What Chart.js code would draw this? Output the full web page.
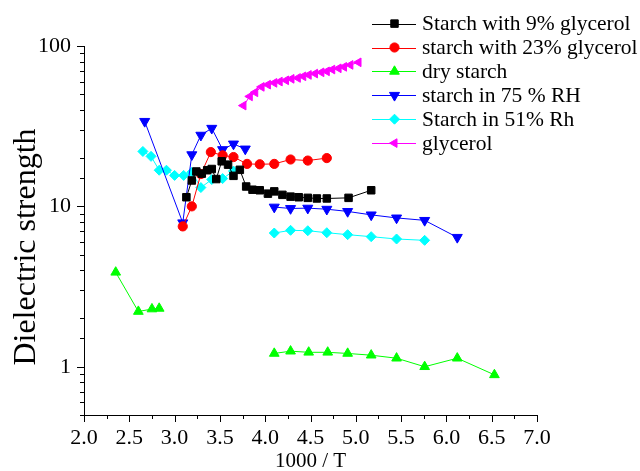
<!DOCTYPE html>
<html>
<head>
<meta charset="utf-8">
<script src="https://cdn.jsdelivr.net/npm/chart.js@4/dist/chart.umd.min.js"></script>
<style>
html,body{margin:0;padding:0;background:#fff;}
#wrap{width:640px;height:471px;position:relative;}
</style>
</head>
<body>
<div id="wrap"><canvas id="c" width="640" height="471"></canvas></div>
<script>
// ---- data ----
const seriesNames = ["Starch with 9% glycerol","starch with 23% glycerol","dry starch","starch in 75 % RH","Starch in 51% Rh","glycerol"];

const blackX = [3.13,3.19,3.24,3.30,3.36,3.41,3.46,3.52,3.59,3.65,3.72,3.79,3.86,3.94,4.03,4.10,4.19,4.28,4.37,4.47,4.57,4.68,4.92,5.17];
const blackY = [11.4,14.5,16.5,16.0,16.8,17.1,14.8,19.1,18.2,15.5,16.9,13.3,12.7,12.6,12.0,12.4,11.8,11.5,11.4,11.3,11.2,11.2,11.3,12.6];

const redX = [3.09,3.19,3.29,3.40,3.53,3.65,3.80,3.94,4.10,4.28,4.47,4.68];
const redY = [7.5,10.0,15.9,21.8,20.8,20.3,18.4,18.3,18.4,19.6,19.3,20.0];

const greenX = [2.35,2.60,2.75,2.83,null,4.10,4.28,4.48,4.69,4.91,5.17,5.45,5.76,6.12,6.53];
const greenY = [3.88,2.21,2.29,2.31,null,1.21,1.25,1.23,1.23,1.21,1.18,1.13,1.0,1.13,0.89];

const blueX = [2.67,3.09,3.19,3.29,3.41,3.53,3.65,3.78,null,4.10,4.28,4.47,4.68,4.91,5.17,5.45,5.76,6.12];
const blueY = [33.9,7.9,21.0,27.8,30.7,22.6,24.5,22.8,null,9.9,9.7,9.75,9.6,9.3,8.85,8.47,8.18,6.41];

const cyanX = [2.65,2.74,2.83,2.91,3.00,3.10,3.19,3.29,3.41,3.53,3.65,null,4.10,4.28,4.47,4.68,4.91,5.17,5.45,5.76];
const cyanY = [22.0,20.5,16.8,16.8,15.6,15.6,16.3,13.1,14.7,14.9,16.6,null,6.82,7.09,7.05,6.85,6.66,6.47,6.26,6.14];

const magentaX = [3.76,3.83,3.89,3.96,4.03,4.10,4.16,4.23,4.29,4.36,4.42,4.48,4.55,4.62,4.68,4.74,4.81,4.87,4.94,5.03];
const magentaY = [42.5,48.5,51.4,55.6,57.4,58.9,60.0,61.1,62.4,63.2,64.7,66.0,67.3,68.5,69.5,71.3,72.6,74.1,76.2,79.1];

const xMin = 2, xMax = 7, xStep = 0.25;
const yMin = 0.5, yMax = 100;
const yLabelValues = [1, 10, 100];
const xTitle = "1000 / T";
const yTitle = "Dielectric strength";

// ---- build ----
function pts(xs, ys){ return xs.map((x,i)=>({x:x, y:ys[i]})); }
const FONT = "'Liberation Serif','Times New Roman',serif";

const styles = [
  {color:'#000000', pointStyle:'rect', rotation:0, radius:5.3},
  {color:'#ff0000', pointStyle:'circle', rotation:0, radius:4.6},
  {color:'#00ff00', pointStyle:'triangle', rotation:0, radius:5.6},
  {color:'#0000ff', pointStyle:'triangle', rotation:180, radius:5.8},
  {color:'#00ffff', pointStyle:'rectRot', rotation:0, radius:5.0},
  {color:'#ff00ff', pointStyle:'triangle', rotation:270, radius:5.0}
];
const dataPairs = [[blackX,blackY],[redX,redY],[greenX,greenY],[blueX,blueY],[cyanX,cyanY],[magentaX,magentaY]];

const datasets = dataPairs.map((p,i)=>({
  label: seriesNames[i],
  data: pts(p[0],p[1]),
  showLine: true,
  spanGaps: false,
  borderColor: styles[i].color,
  backgroundColor: styles[i].color,
  borderWidth: 1,
  pointStyle: styles[i].pointStyle,
  rotation: styles[i].rotation,
  pointRotation: styles[i].rotation,
  pointRadius: styles[i].radius,
  pointBorderWidth: 1,
  pointBorderColor: styles[i].color,
  pointBackgroundColor: styles[i].color,
  tension: 0
}));

const decor = {
  id:'decor',
  afterDraw(chart){
    const ctx = chart.ctx;
    const xs = chart.scales.x, ys = chart.scales.y;
    ctx.save();
    ctx.strokeStyle = '#000';
    ctx.lineWidth = 1;
    // x ticks (outward)
    xs.ticks.forEach(t=>{
      const px = Math.round(xs.getPixelForValue(t.value)) + 0.5;
      const major = Math.abs(t.value*2 - Math.round(t.value*2)) < 1e-6;
      const len = major ? 7 : 4;
      ctx.beginPath(); ctx.moveTo(px, xs.top); ctx.lineTo(px, xs.top + len); ctx.stroke();
    });
    // y ticks (outward)
    ys.ticks.forEach(t=>{
      const py = Math.round(ys.getPixelForValue(t.value)) + 0.5;
      const lg = Math.log10(t.value);
      const major = Math.abs(lg - Math.round(lg)) < 1e-6;
      const len = major ? 7 : 4;
      ctx.beginPath(); ctx.moveTo(ys.right, py); ctx.lineTo(ys.right - len, py); ctx.stroke();
    });
    // axis titles
    ctx.fillStyle = '#000';
    ctx.font = "21px " + FONT;
    ctx.textAlign = 'center'; ctx.textBaseline = 'middle';
    ctx.fillText(xTitle, (xs.left + xs.right)/2, 461);
    ctx.save();
    ctx.translate(27, 247);
    ctx.rotate(-Math.PI/2);
    ctx.font = "32px " + FONT;
    ctx.fillText(yTitle, 0, 0);
    ctx.restore();
    // legend
    const rowY0 = 23.6, rowDy = 23.9;
    chart.data.datasets.forEach((ds,i)=>{
      const y = rowY0 + i*rowDy;
      ctx.strokeStyle = ds.borderColor; ctx.fillStyle = ds.backgroundColor;
      ctx.lineWidth = 1;
      ctx.beginPath(); ctx.moveTo(372, Math.round(y)+0.5); ctx.lineTo(416, Math.round(y)+0.5); ctx.stroke();
      Chart.helpers.drawPoint(ctx, {pointStyle: ds.pointStyle, rotation: ds.pointRotation, radius: ds.pointRadius, borderWidth: 1}, 394.5, y);
      ctx.fillStyle = '#000';
      ctx.font = "21.5px " + FONT;
      ctx.textAlign = 'left'; ctx.textBaseline = 'middle';
      ctx.fillText(ds.label, 422, y + 1);
    });
    ctx.restore();
  }
};

new Chart(document.getElementById('c'), {
  type: 'scatter',
  data: { datasets },
  options: {
    responsive: false,
    animation: false,
    devicePixelRatio: 1,
    layout: { padding: {left:0, right:103, top:46, bottom:0} },
    plugins: { legend:{display:false}, tooltip:{enabled:false} },
    scales: {
      x: {
        type:'linear', min:xMin, max:xMax,
        grid:{display:false, drawTicks:false, tickLength:0},
        border:{display:true, color:'#000', width:1},
        ticks:{
          stepSize:xStep, autoSkip:false, maxRotation:0, padding:10, color:'#000',
          font:{family:FONT, size:22},
          callback:(v)=> (Math.abs(v*2-Math.round(v*2))<1e-6) ? Number(v).toFixed(1) : ''
        },
        afterFit:(s)=>{ s.height = 56; }
      },
      y: {
        type:'logarithmic', min:yMin, max:yMax,
        grid:{display:false, drawTicks:false, tickLength:0},
        border:{display:true, color:'#000', width:1},
        ticks:{
          autoSkip:false, padding:13, color:'#000',
          font:{family:FONT, size:22},
          callback:(v)=> yLabelValues.some(l=>Math.abs(l-v)<1e-9) ? String(v) : ''
        },
        afterFit:(s)=>{ s.width = 84; }
      }
    }
  },
  plugins:[decor]
});
</script>
</body>
</html>
